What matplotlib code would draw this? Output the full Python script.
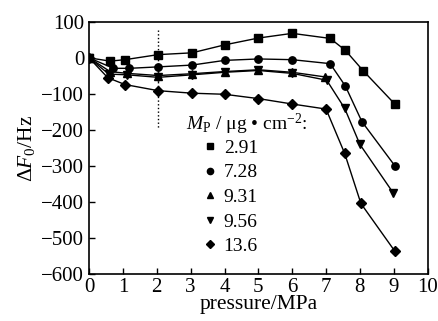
import matplotlib
matplotlib.use("Agg")
import matplotlib.pyplot as plt
from matplotlib.lines import Line2D

plt.rcParams['font.family'] = ['Liberation Serif', 'DejaVu Serif']
plt.rcParams['mathtext.fontset'] = 'custom'
plt.rcParams['mathtext.rm'] = 'Liberation Serif'
plt.rcParams['mathtext.it'] = 'Liberation Serif:italic'
plt.rcParams['font.size'] = 14

# 数据
x_291 = [0, 0.62, 1.06, 2.04, 3.04, 4.0, 5.0, 6.0, 7.12, 7.57, 8.1, 9.03]
y_291 = [0, -9, -5, 9, 14, 36, 55, 68, 54, 21, -36, -128]

x_728 = [0, 0.72, 1.19, 2.04, 3.04, 4.0, 5.0, 6.0, 7.12, 7.57, 8.06, 9.03]
y_728 = [0, -29, -29, -25, -20, -7, -3, -5, -16, -78, -177, -299]

x_931 = [0, 0.62, 1.12, 2.04, 3.04, 4.0, 5.0, 6.0, 6.98]
y_931 = [0, -38, -43, -49, -44, -38, -33, -40, -53]

x_956 = [0, 0.58, 1.12, 2.04, 3.04, 4.0, 5.0, 6.0, 7.02, 7.55, 8.0, 8.98]
y_956 = [0, -45, -47, -54, -47, -40, -35, -43, -62, -140, -240, -374]

x_136 = [0, 0.55, 1.06, 2.04, 3.04, 4.0, 5.0, 6.0, 7.0, 7.55, 8.03, 9.03]
y_136 = [0, -55, -74, -91, -98, -101, -113, -128, -142, -265, -404, -536]

series = [
    (x_291, y_291, 's', '2.91'),
    (x_728, y_728, 'o', '7.28'),
    (x_931, y_931, '^', '9.31'),
    (x_956, y_956, 'v', '9.56'),
    (x_136, y_136, 'D', '13.6'),
]

fig = plt.figure(figsize=(4.39, 3.21), dpi=100)
ax = fig.add_axes([0.203, 0.146, 0.771, 0.786])

for xs, ys, m, lab in series:
    ms = 4.8 if m == 'D' else 5.3
    ax.plot(xs, ys, color='black', lw=1, marker=m, ms=ms, mfc='black', mec='black')

# 竖直虚线
ax.plot([2.04, 2.04], [77, -195], color='black', lw=1, ls=':')

ax.set_xlim(0, 10)
ax.set_ylim(-600, 100)
ax.set_xticks(range(0, 11))
ax.set_yticks(range(-600, 101, 100))
ax.tick_params(direction='in', length=4, width=1, top=False, right=False, labelsize=15)
ax.tick_params(axis='y', pad=3.5)
ax.tick_params(axis='x', pad=2.5)
for sp in ax.spines.values():
    sp.set_linewidth(1.2)

ax.set_xlabel('pressure/MPa', fontsize=15.5, labelpad=-1)
ax.set_ylabel(r'$\Delta F_0$/Hz', fontsize=15.5, labelpad=3)

# 图例
handles = [Line2D([], [], ls='none', marker=m, color='black', ms=4.5) for _, _, m, _ in series]
labels = [lab for _, _, _, lab in series]
ax.text(0.287, 0.595, r'$M_\mathrm{P}$ / μg • cm$^{-2}$:', transform=ax.transAxes,
        fontsize=14, va='center', ha='left')
ax.legend(handles, labels, loc='upper left', bbox_to_anchor=(0.34, 0.535), frameon=False,
          fontsize=14, handlelength=0.6, handletextpad=0.4, labelspacing=0.36,
          borderaxespad=0, borderpad=0)

fig.savefig('out.png', dpi=100)
